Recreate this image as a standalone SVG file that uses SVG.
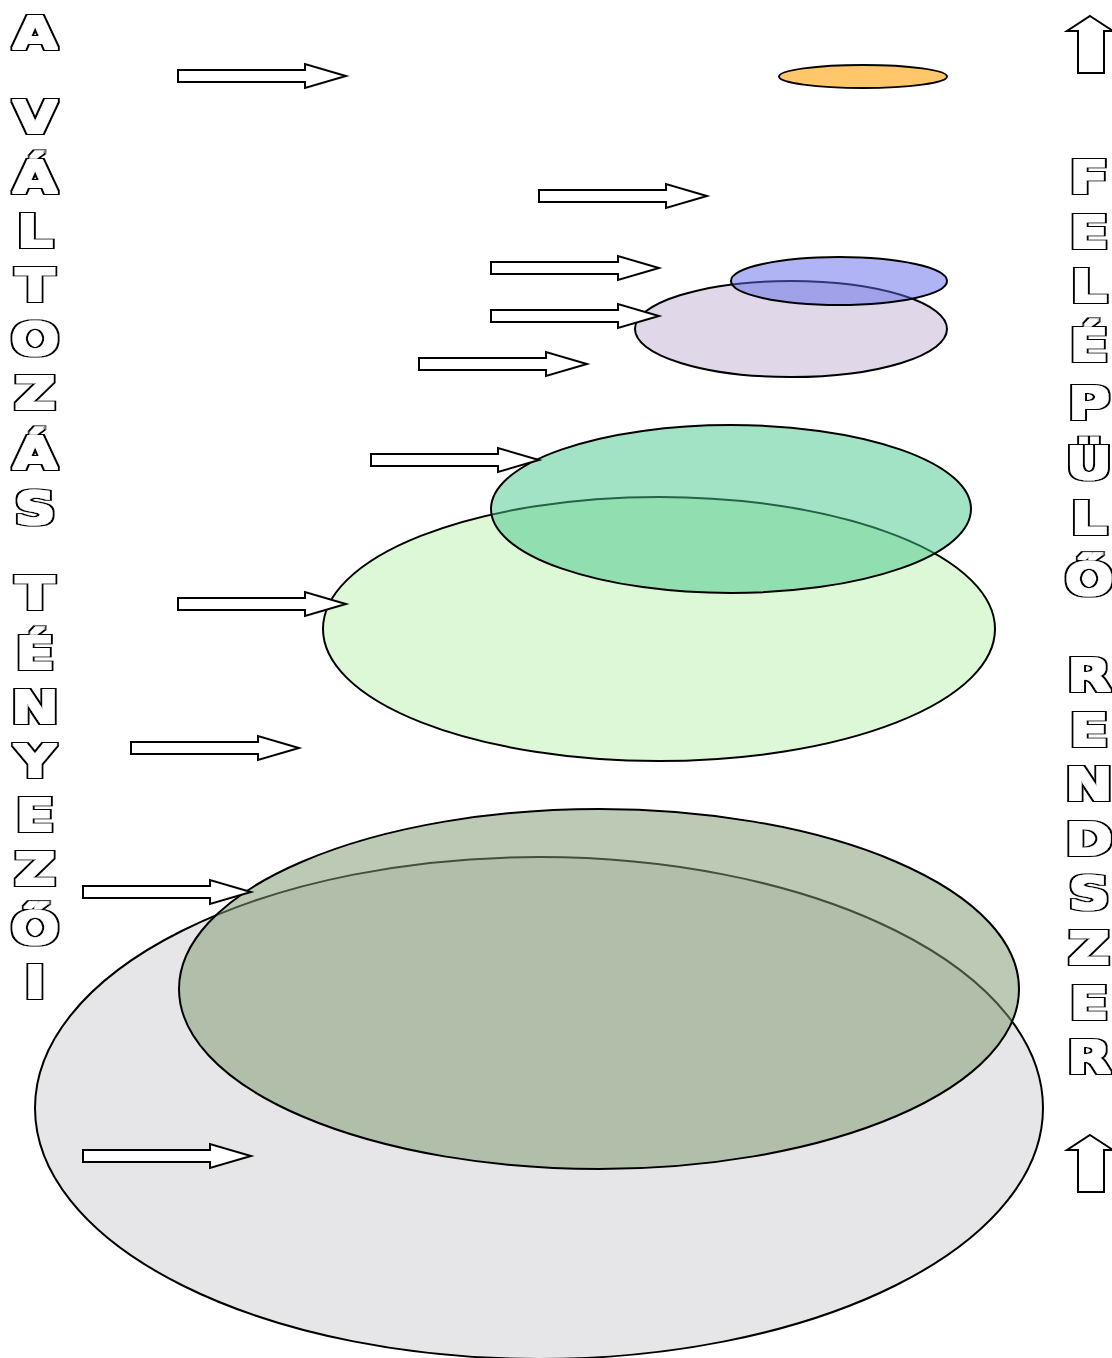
<svg xmlns="http://www.w3.org/2000/svg" xmlns:xlink="http://www.w3.org/1999/xlink" width="1112" height="1358" viewBox="0 0 1112 1358">
<style>
.ell{stroke:#000;stroke-width:2}
.arr{fill:#fff;stroke:#000;stroke-width:2;stroke-linejoin:miter}
.lt{font-family:"DejaVu Sans",sans-serif;font-weight:bold;font-size:44px;fill:#fff;text-anchor:middle;filter:url(#heavy)}
</style>
<defs>
<filter id="heavy" x="-30%" y="-30%" width="160%" height="160%">
<feMorphology in="SourceAlpha" operator="dilate" radius="2.2 2.4" result="outer"/>
<feMorphology in="SourceAlpha" operator="dilate" radius="0.7 0.7" result="inner"/>
<feFlood flood-color="#000" result="blk"/>
<feComposite in="blk" in2="outer" operator="in" result="o"/>
<feFlood flood-color="#fff" result="wh"/>
<feComposite in="wh" in2="inner" operator="in" result="i"/>
<feMerge><feMergeNode in="o"/><feMergeNode in="i"/></feMerge>
</filter>
<path id="ra" d="M0,-6 H127 V-12 L168,0 L127,12 V6 H0 Z"/>
<path id="ua" d="M0,0 L23,15 H14 V57 H-12 V15 H-23 Z"/>
</defs>
<rect width="1112" height="1358" fill="#fff"/>
<g id="n-gray"><ellipse class="ell" cx="539" cy="1108" rx="504" ry="251" fill="#e6e6e8"/></g>
<g id="n-olive"><ellipse class="ell" cx="599" cy="989" rx="420" ry="180" fill="rgb(126,153,113)" fill-opacity="0.52"/></g>
<g id="n-lightgreen"><ellipse class="ell" cx="659" cy="629" rx="336" ry="132" fill="#dcf8d6"/></g>
<g id="n-teal"><ellipse class="ell" cx="731" cy="509" rx="240" ry="84" fill="rgb(70,198,139)" fill-opacity="0.5"/></g>
<g id="n-lavender"><ellipse class="ell" cx="791" cy="329" rx="156" ry="48" fill="#e0d8e8"/></g>
<g id="n-blue"><ellipse class="ell" cx="839" cy="281" rx="108" ry="24" fill="rgb(98,106,236)" fill-opacity="0.5"/></g>
<g id="n-orange"><ellipse class="ell" cx="863" cy="76.5" rx="84" ry="11.5" fill="#ffc66a"/></g>
<g id="connectors">
<use xlink:href="#ra" class="arr" x="178" y="76"/>
<use xlink:href="#ra" class="arr" x="539" y="196"/>
<use xlink:href="#ra" class="arr" x="491" y="268"/>
<use xlink:href="#ra" class="arr" x="491" y="316"/>
<use xlink:href="#ra" class="arr" x="419" y="364"/>
<use xlink:href="#ra" class="arr" x="371" y="460"/>
<use xlink:href="#ra" class="arr" x="178" y="604"/>
<use xlink:href="#ra" class="arr" x="131" y="748"/>
<use xlink:href="#ra" class="arr" x="83" y="892"/>
<use xlink:href="#ra" class="arr" x="83" y="1156"/>
<use xlink:href="#ua" class="arr" x="1090" y="16"/>
<use xlink:href="#ua" class="arr" x="1090" y="1135"/>
</g>
<g id="left-title">
<text class="lt" transform="translate(35,49) scale(1.3,1)">A</text>
<text class="lt" transform="translate(35,133) scale(1.3,1)">V</text>
<text class="lt" transform="translate(35,193) scale(1.3,1)">Á</text>
<text class="lt" transform="translate(35,247) scale(1.3,1)">L</text>
<text class="lt" transform="translate(35,301) scale(1.3,1)">T</text>
<text class="lt" transform="translate(35,355) scale(1.3,1)">O</text>
<text class="lt" transform="translate(35,409) scale(1.3,1)">Z</text>
<text class="lt" transform="translate(35,469) scale(1.3,1)">Á</text>
<text class="lt" transform="translate(35,524) scale(1.3,1)">S</text>
<text class="lt" transform="translate(35,609) scale(1.3,1)">T</text>
<text class="lt" transform="translate(35,669) scale(1.3,1)">É</text>
<text class="lt" transform="translate(35,723) scale(1.3,1)">N</text>
<text class="lt" transform="translate(35,777) scale(1.3,1)">Y</text>
<text class="lt" transform="translate(35,831) scale(1.3,1)">E</text>
<text class="lt" transform="translate(35,885) scale(1.3,1)">Z</text>
<text class="lt" transform="translate(35,944) scale(1.3,1)">Ő</text>
<text class="lt" transform="translate(35,998) scale(1.3,1)">I</text>
</g>
<g id="right-title">
<text class="lt" transform="translate(1089,193) scale(1.3,1)">F</text>
<text class="lt" transform="translate(1089,248) scale(1.3,1)">E</text>
<text class="lt" transform="translate(1089,302) scale(1.3,1)">L</text>
<text class="lt" transform="translate(1089,361) scale(1.3,1)">É</text>
<text class="lt" transform="translate(1089,419) scale(1.3,1)">P</text>
<text class="lt" transform="translate(1089,479) scale(1.3,1)">Ü</text>
<text class="lt" transform="translate(1089,534) scale(1.3,1)">L</text>
<text class="lt" transform="translate(1089,595) scale(1.3,1)">Ő</text>
<text class="lt" transform="translate(1089,691) scale(1.3,1)">R</text>
<text class="lt" transform="translate(1089,746) scale(1.3,1)">E</text>
<text class="lt" transform="translate(1089,800) scale(1.3,1)">N</text>
<text class="lt" transform="translate(1089,855) scale(1.3,1)">D</text>
<text class="lt" transform="translate(1089,909) scale(1.3,1)">S</text>
<text class="lt" transform="translate(1089,964) scale(1.3,1)">Z</text>
<text class="lt" transform="translate(1089,1019) scale(1.3,1)">E</text>
<text class="lt" transform="translate(1089,1073) scale(1.3,1)">R</text>
</g>
</svg>
